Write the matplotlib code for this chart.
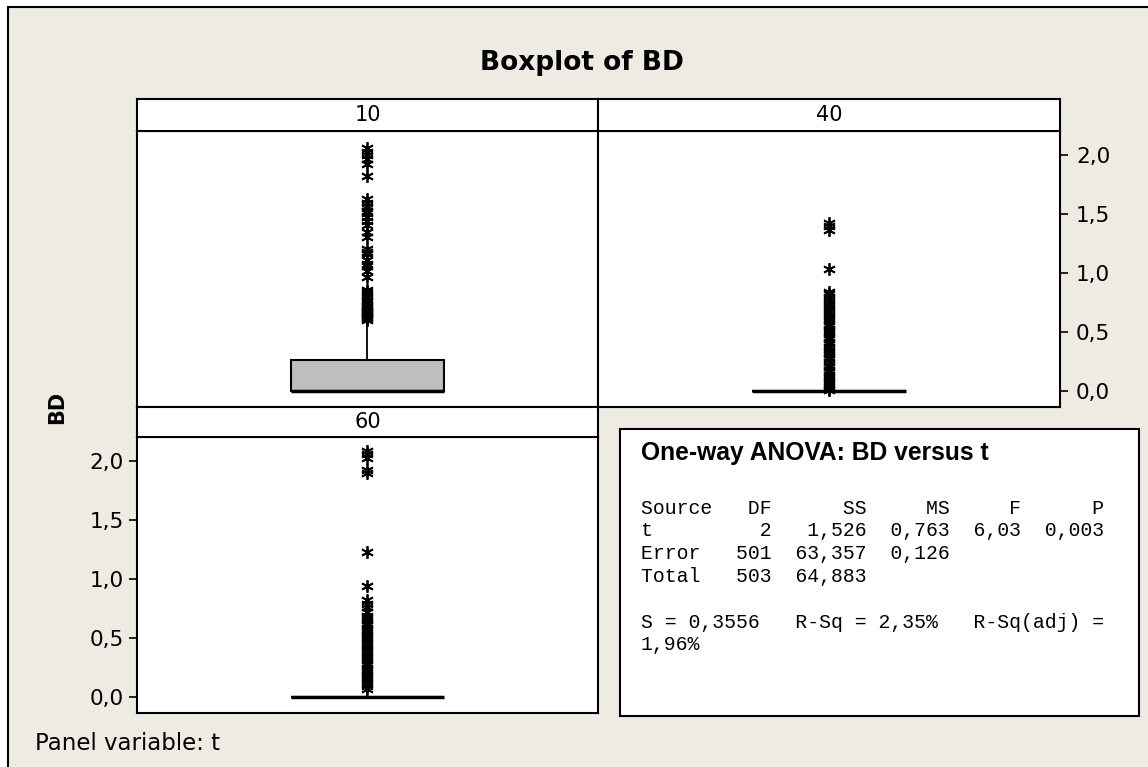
import matplotlib.pyplot as plt
from matplotlib.patches import Rectangle

W, H = 1148, 767
bg_color = '#EEEBE2'
box_color = '#BEBEBE'

# panel data (Minitab style boxplot stats)
panel_names = ['10', '40', '60']
q1 = [0.0, 0.0, 0.0]
medians = [0.0, 0.0, 0.0]
q3 = [0.26, 0.0, 0.0]
whis_lo = [0.0, 0.0, 0.0]
whis_hi = [0.58, 0.0, 0.05]

fliers_10 = [2.06, 2.03, 2.00, 1.97, 1.93, 1.83, 1.63, 1.60, 1.57, 1.53, 1.51,
             1.48, 1.44, 1.41, 1.35, 1.31, 1.21, 1.18, 1.16, 1.11, 1.08, 1.06,
             1.02, 0.97, 0.86, 0.84, 0.82, 0.80, 0.77, 0.76, 0.74, 0.72, 0.71,
             0.70, 0.69, 0.68, 0.67, 0.66, 0.65, 0.64, 0.63, 0.62, 0.61, 0.60]
fliers_40 = [1.43, 1.40, 1.37, 1.04, 0.84, 0.82, 0.80, 0.77, 0.75, 0.73, 0.71,
             0.69, 0.66, 0.64, 0.62, 0.60, 0.57, 0.55, 0.53, 0.51, 0.49, 0.46,
             0.44, 0.42, 0.40, 0.37, 0.35, 0.33, 0.31, 0.29, 0.27, 0.25, 0.22,
             0.20, 0.18, 0.16, 0.14, 0.12, 0.10, 0.08, 0.06, 0.04, 0.02, 0.01]
fliers_60 = [2.09, 2.06, 2.03, 1.93, 1.90, 1.23, 0.94, 0.82, 0.79, 0.76, 0.72,
             0.69, 0.67, 0.65, 0.63, 0.61, 0.59, 0.57, 0.55, 0.53, 0.51, 0.49,
             0.47, 0.45, 0.43, 0.41, 0.39, 0.37, 0.35, 0.33, 0.31, 0.29, 0.27,
             0.25, 0.23, 0.21, 0.19, 0.17, 0.15, 0.13, 0.11, 0.09, 0.07]
fliers = [fliers_10, fliers_40, fliers_60]

ytick_values = [0.0, 0.5, 1.0, 1.5, 2.0]
ytick_labels = ['0,0', '0,5', '1,0', '1,5', '2,0']

anova_title = 'One-way ANOVA: BD versus t'
anova_lines = [
    'Source   DF      SS     MS     F      P',
    't         2   1,526  0,763  6,03  0,003',
    'Error   501  63,357  0,126',
    'Total   503  64,883',
    '',
    'S = 0,3556   R-Sq = 2,35%   R-Sq(adj) =',
    '1,96%',
]


def frac(x0, y0, x1, y1):
    # pixel box (top-left origin) -> figure fraction rect
    return [x0 / W, 1 - y1 / H, (x1 - x0) / W, (y1 - y0) / H]


fig = plt.figure(figsize=(W / 100, H / 100), dpi=100, facecolor='white')

# outer frame
fig.patches.append(Rectangle((8 / W, -0.05), 1.1, 1 - 7 / H + 0.05,
                             transform=fig.transFigure, facecolor=bg_color,
                             edgecolor='black', linewidth=1.5, zorder=-10))

plot_boxes = [(137, 131, 598, 407), (598, 131, 1060, 407), (137, 437, 598, 713)]
strip_boxes = [(137, 99, 598, 131), (598, 99, 1060, 131), (137, 407, 598, 437)]

for i in range(3):
    ax = fig.add_axes(frac(*plot_boxes[i]))
    ax.set_facecolor('white')
    stats = dict(med=medians[i], q1=q1[i], q3=q3[i], whislo=whis_lo[i],
                 whishi=whis_hi[i], fliers=fliers[i])
    ax.bxp([stats], positions=[0], widths=0.668, patch_artist=True,
           showcaps=False,
           boxprops=dict(facecolor=box_color, edgecolor='black', linewidth=1.5),
           medianprops=dict(color='black', linewidth=2.5),
           whiskerprops=dict(color='black', linewidth=1.3),
           flierprops=dict(marker=(6, 2, 0), markersize=9,
                           markeredgecolor='black', markeredgewidth=1.3,
                           linestyle='none'))
    ax.set_xlim(-1, 1)
    ax.set_ylim(-0.136, 2.208)
    ax.set_xticks([])
    for s in ax.spines.values():
        s.set_linewidth(1.5)
    if i == 0:
        ax.set_yticks([])
    else:
        ax.set_yticks(ytick_values)
        ax.set_yticklabels(ytick_labels)
        if i == 1:
            ax.yaxis.tick_right()
            ax.tick_params(axis='y', direction='out', length=5.5, width=1.2,
                           labelsize=15.5, pad=6)
        else:
            ax.tick_params(axis='y', direction='out', length=5.5, width=1.2,
                           labelsize=15.5, pad=4)

    sax = fig.add_axes(frac(*strip_boxes[i]))
    sax.set_facecolor('white')
    sax.set_xticks([])
    sax.set_yticks([])
    for s in sax.spines.values():
        s.set_linewidth(1.5)
    sax.text(0.5, 0.5, panel_names[i], ha='center', va='center',
             fontsize=15, transform=sax.transAxes)

# titles and labels
fig.text(582 / W, 1 - 63 / H, 'Boxplot of BD', ha='center', va='center',
         fontsize=19, fontweight='bold')
fig.text(57 / W, 1 - 407 / H, 'BD', ha='center', va='center', rotation=90,
         fontsize=15, fontweight='bold')
fig.text(35 / W, 1 - 743 / H, 'Panel variable: t', ha='left', va='center',
         fontsize=16.5)

# ANOVA box
fig.patches.append(Rectangle((620 / W, 1 - 716 / H), (1139 - 620) / W,
                             (716 - 429) / H, transform=fig.transFigure,
                             facecolor='white', edgecolor='black',
                             linewidth=1.5))
fig.text(641 / W, 1 - 453 / H, anova_title, ha='left', va='center',
         fontsize=17.7, fontweight='bold', family='Liberation Sans')
for k, line in enumerate(anova_lines):
    fig.text(641 / W, 1 - (508 + 22.8 * k) / H, line, ha='left', va='center',
             fontsize=14.2, family='Liberation Mono')

fig.savefig('out.png', dpi=100, facecolor=fig.get_facecolor())
